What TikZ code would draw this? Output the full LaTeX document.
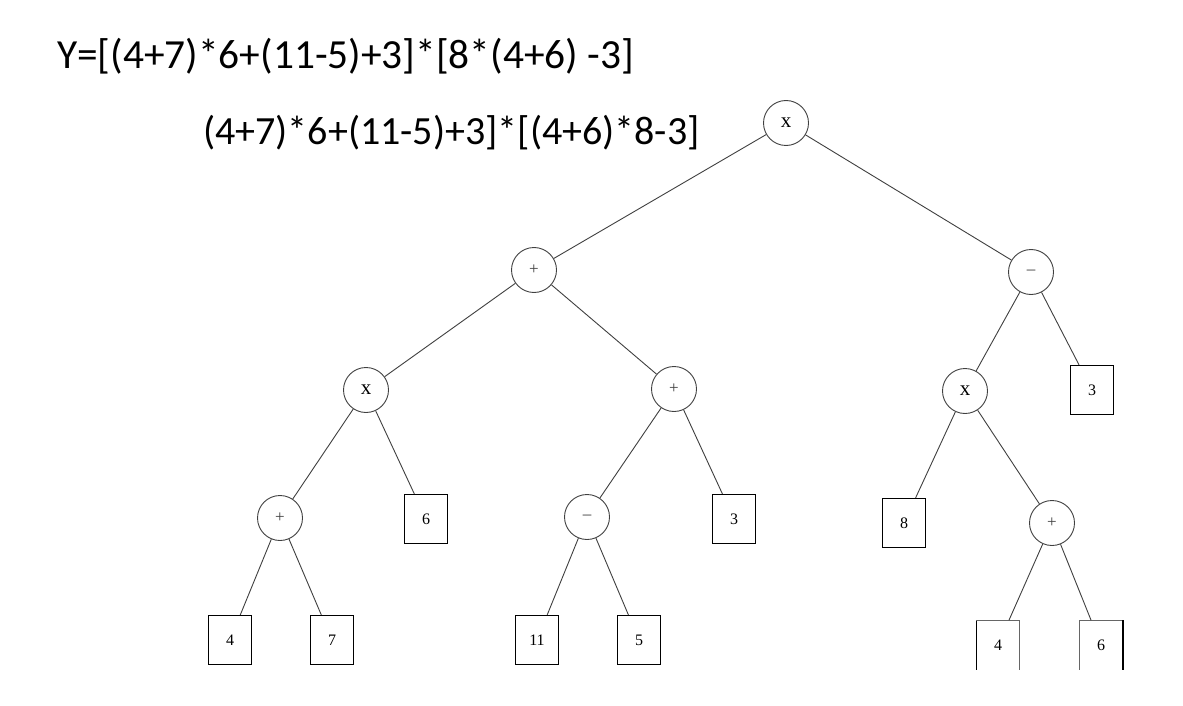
\documentclass[tikz,border=0pt]{standalone}
\usepackage{fontspec}
\setmainfont{Liberation Serif}
\newfontfamily\calib{Carlito}
\begin{document}
\begin{tikzpicture}[x=1pt,y=-1pt,
  op/.style={circle, draw=black!75, line width=0.9pt, minimum size=45pt, inner sep=0pt, font=\fontsize{17}{17}\selectfont, text=black!75},
  opx/.style={op, font=\fontsize{21}{21}\selectfont, text=black},
  leaf/.style={rectangle, draw=black, line width=1.2pt, minimum width=43pt, minimum height=49pt, inner sep=0pt, font=\fontsize{16}{16}\selectfont},
  openleaf/.style={rectangle, draw=none, minimum width=43pt, minimum height=49pt, inner sep=0pt, font=\fontsize{16}{16}\selectfont},
  edge/.style={draw=black!75, line width=0.9pt},
  title/.style={anchor=base west, inner sep=0pt}]
\useasboundingbox (0,0) rectangle (1183,706);
\fill[white] (0,0) rectangle (1183,706);

\node[title, font=\calib\fontsize{41.4}{41.4}\selectfont] (t1) at (57,69) {Y=[(4+7)*6+(11-5)+3]*[8*(4+6) -3]};
\node[title, font=\calib\fontsize{40}{40}\selectfont] (t2) at (203,145) {(4+7)*6+(11-5)+3]*[(4+6)*8-3]};

% operators
\node[opx] (r)   at (786,123) {x};
\node[op]  (p1)  at (534,270) {+};
\node[op]  (m1)  at (1031,272) {–};
\node[opx] (x2)  at (366,390) {x};
\node[op]  (p2)  at (674,389) {+};
\node[opx] (x3)  at (965,391) {x};
\node[op]  (p3)  at (280,518) {+};
\node[op]  (m3)  at (587,517) {–};
\node[op]  (p4)  at (1052,523) {+};

% leaves
\node[leaf] (b3r) at (1092,390) {3};
\node[leaf] (b6)  at (426,519) {6};
\node[leaf] (b3m) at (734,519) {3};
\node[leaf] (b8)  at (904,523) {8};
\node[leaf] (b4)  at (230,640) {4};
\node[leaf] (b7)  at (332,640) {7};
\node[leaf] (b11) at (537,640) {11};
\node[leaf] (b5)  at (639,640) {5};
\node[openleaf] (c4) at (998,645) {4};
\node[openleaf] (c6) at (1101,645) {6};
\draw[line width=1.2pt] (c4.south west) -- (c4.north west);
\draw[black!60, line width=1pt] (c4.north west) -- (c4.north east) -- (c4.south east);
\draw[black!60, line width=1pt] (c6.south west) -- (c6.north west) -- (c6.north east);
\draw[line width=2pt] (c6.north east) -- (c6.south east);

% edges
\draw[edge] (r) -- (p1);
\draw[edge] (r) -- (m1);
\draw[edge] (p1) -- (x2);
\draw[edge] (p1) -- (p2);
\draw[edge] (m1) -- (x3);
\draw[edge] (m1) -- (b3r);
\draw[edge] (x2) -- (p3);
\draw[edge] (x2) -- (b6);
\draw[edge] (p2) -- (m3);
\draw[edge] (p2) -- (b3m);
\draw[edge] (x3) -- (b8);
\draw[edge] (x3) -- (p4);
\draw[edge] (p3) -- (b4);
\draw[edge] (p3) -- (b7);
\draw[edge] (m3) -- (b11);
\draw[edge] (m3) -- (b5);
\draw[edge] (p4) -- (c4);
\draw[edge] (p4) -- (c6);
\end{tikzpicture}
\end{document}
